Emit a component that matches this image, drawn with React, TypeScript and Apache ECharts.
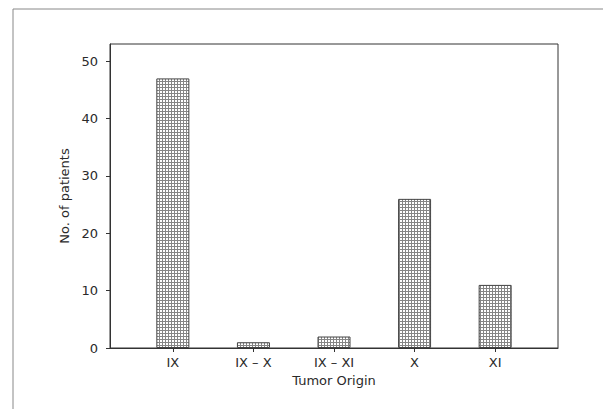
import React, { useEffect, useRef } from "react";
import * as echarts from "echarts";

const categories = ["IX", "IX – X", "IX – XI", "X", "XI"];
const categoryPositions = [1, 2, 3, 4, 5];
const patientCounts = [47, 1, 2, 26, 11];
const yTickValues = [0, 10, 20, 30, 40, 50];

const patternSvg =
  "<svg xmlns='http://www.w3.org/2000/svg' width='3' height='3'>" +
  "<rect width='3' height='3' fill='#ffffff'/>" +
  "<rect width='3' height='1' fill='#858585'/>" +
  "<rect width='1' height='3' fill='#858585'/>" +
  "</svg>";
const patternUrl = "data:image/svg+xml;charset=utf-8," + encodeURIComponent(patternSvg);

export default function App() {
  const ref = useRef<HTMLDivElement>(null);
  useEffect(() => {
    document.body.style.margin = "0";
    if (!ref.current) return;
    const chart = echarts.init(ref.current, null, { renderer: "svg" });
    const font = "DejaVu Sans";
    const textColor = "#2a2a2a";
    chart.setOption({
      animation: false,
      backgroundColor: "#ffffff",
      textStyle: { fontFamily: font },
      grid: {
        left: 110,
        top: 44,
        width: 448,
        height: 304,
        show: true,
        borderColor: "#333",
        borderWidth: 1,
        backgroundColor: "transparent",
      },
      xAxis: {
        type: "value",
        min: 0.22,
        max: 5.78,
        name: "Tumor Origin",
        nameLocation: "middle",
        nameGap: 25,
        nameTextStyle: { fontFamily: font, fontSize: 13, color: textColor },
        splitLine: { show: false },
        axisLine: { show: true, lineStyle: { color: "#333", width: 1 } },
        axisTick: {
          show: true,
          length: 4,
          lineStyle: { color: "#333" },
          customValues: categoryPositions,
        },
        axisLabel: {
          customValues: categoryPositions,
          margin: 8,
          fontFamily: font,
          fontSize: 13,
          color: textColor,
          formatter: (v: number) => {
            const i = categoryPositions.indexOf(Math.round(v));
            return i >= 0 ? categories[i] : "";
          },
        },
      },
      yAxis: {
        type: "value",
        min: 0,
        max: 53,
        interval: 10,
        name: "No. of patients",
        nameLocation: "middle",
        nameRotate: 90,
        nameGap: 38,
        nameTextStyle: { fontFamily: font, fontSize: 13, color: textColor },
        splitLine: { show: false },
        axisLine: { show: true, lineStyle: { color: "#333", width: 1 } },
        axisTick: {
          show: true,
          length: 4,
          lineStyle: { color: "#333" },
          customValues: yTickValues,
        },
        axisLabel: {
          customValues: yTickValues,
          margin: 12,
          fontFamily: font,
          fontSize: 13,
          color: textColor,
        },
      },
      series: [
        {
          type: "bar",
          barWidth: 33,
          data: categoryPositions.map((p, i) => [p, patientCounts[i]]),
          itemStyle: {
            color: {
              image: patternUrl,
              repeat: "repeat",
              imageWidth: 3,
              imageHeight: 3,
            },
            borderColor: "#444",
            borderWidth: 1,
          },
        },
      ],
      graphic: [
        {
          type: "polyline",
          silent: true,
          shape: {
            points: [
              [13, 409],
              [13, 9],
              [603, 9],
            ],
          },
          style: { stroke: "#888", lineWidth: 1, fill: null },
        },
      ],
    });
    return () => chart.dispose();
  }, []);
  return <div ref={ref} style={{ width: 603, height: 409 }} />;
}
